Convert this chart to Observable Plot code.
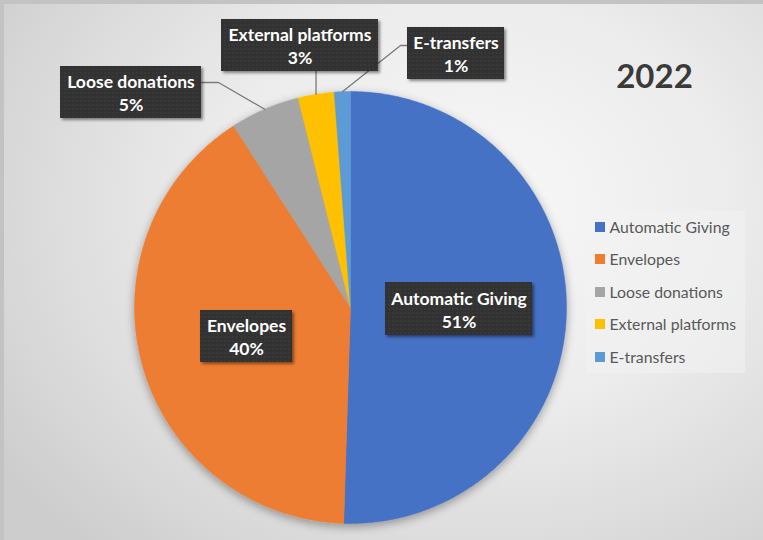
<!DOCTYPE html>
<html>
<head>
<meta charset="utf-8">
<script src="https://cdn.jsdelivr.net/npm/d3@7"></script>
<script src="https://cdn.jsdelivr.net/npm/@observablehq/plot@0.6"></script>
<style>
  html, body { margin: 0; padding: 0; }
  #chart {
    width: 763px; height: 540px; position: relative; overflow: hidden;
    background: radial-gradient(ellipse 75% 85% at 62% 38%, #f8f8f8 0%, #ececec 45%, #d9d9d9 80%, #cdcdcd 100%);
    box-shadow: inset 4px 4px 0 #c3c3c3;
  }
  #chart svg { display: block; background: transparent; }
</style>
</head>
<body>
<div id="chart"></div>
<script>
// ---- data ----
const categories = ["Automatic Giving", "Envelopes", "Loose donations", "External platforms", "E-transfers"];
const shares = [50.5, 40.4, 5.2, 2.7, 1.2];
const colors = ["#4472C4", "#ED7D31", "#A5A5A5", "#FFC000", "#5B9BD5"];
const chartTitle = "2022";

// ---- layout (pixels) ----
const W = 763, H = 540;
const CX = 350, CY = 307, R = 216;
const labelBoxes = [
  {x1: 385, x2: 532, y1: 282, y2: 335},
  {x1: 200, x2: 292, y1: 310, y2: 362},
  {x1: 60,  x2: 201, y1: 66,  y2: 118},
  {x1: 221, x2: 378, y1: 19,  y2: 71},
  {x1: 407, x2: 504, y1: 27,  y2: 79}
];
const leaderStarts = {
  "Loose donations": [[201, 82], [218, 82]],
  "External platforms": [[null, 71]],
  "E-transfers": [[407, 45], [400, 45]]
};
const legendBox = {x1: 586, x2: 745, y1: 211, y2: 373};
const legendRowY = [227, 259, 292, 324, 357];

// ---- derived geometry ----
const total = d3.sum(shares);
let acc = 0;
const slices = categories.map((cat, i) => {
  const a0 = acc / total * 2 * Math.PI;
  acc += shares[i];
  const a1 = acc / total * 2 * Math.PI;
  return {cat, value: shares[i], a0, a1, mid: (a0 + a1) / 2};
});
const px = a => CX + R * Math.sin(a);
const py = a => CY - R * Math.cos(a);
const piePts = [];
for (const s of slices) {
  piePts.push({cat: s.cat, x: CX, y: CY});
  const n = Math.max(2, Math.ceil((s.a1 - s.a0) / (Math.PI / 360)));
  for (let k = 0; k <= n; k++) {
    const a = s.a0 + (s.a1 - s.a0) * k / n;
    piePts.push({cat: s.cat, x: px(a), y: py(a)});
  }
  piePts.push({cat: s.cat, x: CX, y: CY});
}
const labels = slices.map((s, i) => ({
  cat: s.cat,
  text: `${s.cat}\n${Math.round(s.value)}%`,
  ...labelBoxes[i],
  cx: (labelBoxes[i].x1 + labelBoxes[i].x2) / 2,
  cy: (labelBoxes[i].y1 + labelBoxes[i].y2) / 2
}));
const leaderPts = [];
for (const s of slices) {
  const st = leaderStarts[s.cat];
  if (!st) continue;
  const ex = px(s.mid), ey = py(s.mid);
  for (const [x, y] of st) leaderPts.push({cat: s.cat, x: x == null ? ex : x, y});
  leaderPts.push({cat: s.cat, x: ex, y: ey});
}
const legendRows = categories.map((cat, i) => ({cat, y: legendRowY[i]}));

const font = "Lato, 'Open Sans', sans-serif";
const plot = Plot.plot({
  width: W, height: H,
  margin: 0,
  style: {background: "transparent", overflow: "visible"},
  x: {domain: [0, W], range: [0, W], axis: null},
  y: {domain: [0, H], range: [0, H], axis: null},
  color: {domain: categories, range: colors},
  marks: [
    // pie slices (one filled path per category)
    ...categories.map((cat, i) =>
      Plot.line(piePts.filter(d => d.cat === cat), {x: "x", y: "y", fill: colors[i], stroke: colors[i], strokeWidth: 0.5})
    ),
    // leader lines
    Plot.line(leaderPts, {x: "x", y: "y", z: "cat", stroke: "#7a7a7a", strokeWidth: 1.3}),
    // label boxes
    Plot.rect(labels, {x1: "x1", x2: "x2", y1: "y1", y2: "y2", fill: "#333333"}),
    Plot.text(labels, {x: "cx", y: "cy", text: "text", fill: "white", fontSize: 17.5, fontWeight: "bold",
      fontFamily: font, lineHeight: 1.3, textAnchor: "middle"}),
    // title
    Plot.text([chartTitle], {x: () => 654, y: () => 77, text: d => d, fontSize: 33, fontWeight: "bold",
      fill: "#3a3a3a", fontFamily: font}),
    // legend
    Plot.rect([legendBox], {x1: "x1", x2: "x2", y1: "y1", y2: "y2", fill: "#f2f2f2", fillOpacity: 0.55}),
    Plot.rect(legendRows, {x1: () => 595, x2: () => 605, y1: d => d.y - 5, y2: d => d.y + 5, fill: "cat"}),
    Plot.text(legendRows, {x: () => 609, y: "y", text: "cat", textAnchor: "start", fontSize: 15.8,
      fill: "#595959", fontFamily: font})
  ]
});

document.getElementById("chart").appendChild(plot);

// decorative SVG effects: shadows and dotted box texture
const svg = d3.select(plot);
const defs = svg.insert("defs", ":first-child");
defs.append("filter").attr("id", "pieShadow").attr("x", "-20%").attr("y", "-20%").attr("width", "140%").attr("height", "140%")
  .append("feDropShadow").attr("dx", 0).attr("dy", 3).attr("stdDeviation", 5)
  .attr("flood-color", "#000").attr("flood-opacity", 0.35);
defs.append("filter").attr("id", "boxShadow").attr("x", "-10%").attr("y", "-20%").attr("width", "130%").attr("height", "150%")
  .append("feDropShadow").attr("dx", 2).attr("dy", 2).attr("stdDeviation", 1.5)
  .attr("flood-color", "#000").attr("flood-opacity", 0.45);
const pat = defs.append("pattern").attr("id", "dots").attr("width", 4).attr("height", 4).attr("patternUnits", "userSpaceOnUse");
pat.append("rect").attr("width", 4).attr("height", 4).attr("fill", "#313131");
pat.append("circle").attr("cx", 1).attr("cy", 1).attr("r", 0.7).attr("fill", "#474747");

const lineGroups = svg.selectAll('g[aria-label="line"]').nodes();
const pieGroup = svg.append("g").attr("filter", "url(#pieShadow)");
const firstMark = lineGroups[0];
firstMark.parentNode.insertBefore(pieGroup.node(), firstMark);
for (let i = 0; i < categories.length; i++) pieGroup.node().appendChild(lineGroups[i]);
const rectGroups = svg.selectAll('g[aria-label="rect"]').nodes();
d3.select(rectGroups[0]).attr("filter", "url(#boxShadow)").selectAll("rect").attr("fill", "url(#dots)");
</script>
</body>
</html>
